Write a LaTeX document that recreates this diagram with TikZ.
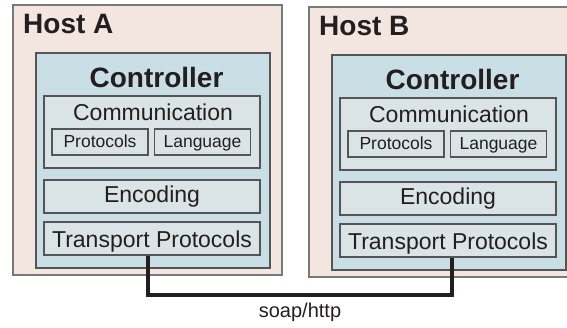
\documentclass[tikz,border=0pt]{standalone}
\usepackage{fontspec}
\setmainfont{Liberation Sans}
\definecolor{hostfill}{HTML}{F3E6E1}
\definecolor{ctrlfill}{HTML}{C9DEE5}
\definecolor{partfill}{HTML}{DAE3E5}
\definecolor{hostline}{HTML}{7A7A7A}
\definecolor{boxline}{HTML}{555555}
\definecolor{ink}{HTML}{231F20}

\begin{document}
\begin{tikzpicture}[x=1pt,y=-1pt,
	host/.style={draw=hostline,line width=1.3pt,fill=hostfill,minimum width=269pt,minimum height=270pt,inner sep=0pt},
	ctrl/.style={draw=boxline,line width=1.3pt,fill=ctrlfill,minimum width=234pt,minimum height=215pt,inner sep=0pt},
	part/.style={draw=boxline,line width=1.1pt,fill=partfill,minimum width=216pt,minimum height=33pt,inner sep=0pt,font=\fontsize{23}{27}\selectfont,text=ink,text height=17pt,text depth=5pt},
	low/.style={text height=20pt,text depth=3pt},
	sub/.style={part,minimum width=96pt,minimum height=26pt,font=\fontsize{17.5}{21}\selectfont,text height=14pt,text depth=3pt},
	title/.style={font=\bfseries\fontsize{28}{32}\selectfont,text=ink,inner sep=0pt},
	head/.style={font=\fontsize{23}{27}\selectfont,text=ink,inner sep=0pt},
	wire/.style={draw=ink,line width=3.2pt}]
	\useasboundingbox (0,0) rectangle (567,327);
	\clip (0,0) rectangle (567,327);

	\node[host] (hostA) at (147.5,140) {};
	\node[title,anchor=base west] (hostAname) at (23,33) {Host A};
	\node[ctrl] (ctrlA) at (153,160.5) {};
	\node[title,anchor=base] (ctrlAname) at (156.5,87) {Controller};
	\node[part,minimum height=72pt] (comA) at (152,132) {};
	\node[head,anchor=base] (comAname) at (153,120) {Communication};
	\node[sub] (protA) at (100,142) {Protocols};
	\node[sub] (langA) at (202.5,142) {Language};
	\node[part] (encA) at (152,196.5) {Encoding};
	\node[part,low] (tpA) at (152,238.5) {Transport Protocols};

	\node[host] (hostB) at (443.5,142) {};
	\node[title,anchor=base west] (hostBname) at (319,35) {Host B};
	\node[ctrl] (ctrlB) at (449,162.5) {};
	\node[title,anchor=base] (ctrlBname) at (452.5,89) {Controller};
	\node[part,minimum height=72pt] (comB) at (448,134) {};
	\node[head,anchor=base] (comBname) at (449,122) {Communication};
	\node[sub] (protB) at (396,144) {Protocols};
	\node[sub] (langB) at (498.5,144) {Language};
	\node[part] (encB) at (448,198.5) {Encoding};
	\node[part,low] (tpB) at (448,240.5) {Transport Protocols};

	\coordinate (bus) at (300,295);
	\draw[wire] ([xshift=-4pt]tpA.south) |- (bus) -| ([xshift=4pt]tpB.south);
	\node[font=\fontsize{20}{24}\selectfont,text=ink] (soap) at (300,312) {soap/http};
\end{tikzpicture}
\end{document}
